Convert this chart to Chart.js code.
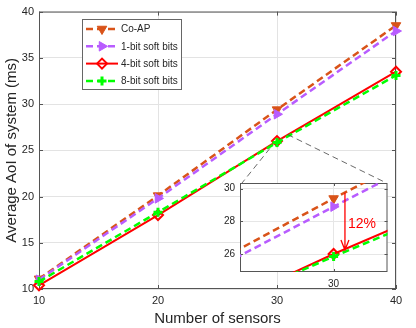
<!DOCTYPE html>
<html>
<head>
<meta charset="utf-8">
<script src="https://cdn.jsdelivr.net/npm/chart.js@4/dist/chart.umd.min.js"></script>
<style>
  html, body { margin: 0; padding: 0; background: #fff; }
  #wrap { position: relative; width: 416px; height: 328px; }
  #main { position: absolute; left: 0; top: 0; }
  #inset { position: absolute; left: 215px; top: 172px; }
</style>
</head>
<body>
<div id="wrap">
  <canvas id="main" width="416" height="328"></canvas>
  <canvas id="inset" width="180" height="118"></canvas>
</div>
<script>
Chart.defaults.font.family = "'Liberation Sans', Arial, Helvetica, sans-serif";
Chart.defaults.color = '#262626';

// data
var sensors = [10, 20, 30, 40];
var coAP  = [11.1, 20.1, 29.4, 38.5];
var soft1 = [11.0, 19.8, 28.9, 37.9];
var soft4 = [10.4, 18.0, 26.0, 33.5];
var soft8 = [10.8, 18.3, 25.85, 33.1];
var names = ['Co-AP', '1-bit soft bits', '4-bit soft bits', '8-bit soft bits'];
var xTicks = [10, 20, 30, 40];
var yTicks = [10, 15, 20, 25, 30, 35, 40];
var insetXTicks = [30];
var insetYTicks = [26, 28, 30];

// series look
var styles = [
  {color: '#D95319', dash: [7, 4], width: 2.5, point: 'triangle', rot: 180, r: 5.5, fill: true,  pw: 1},
  {color: '#B85CFF', dash: [7, 4], width: 2.5, point: 'triangle', rot: 90,  r: 5.5, fill: true,  pw: 1},
  {color: '#FF0000', dash: [],     width: 2,   point: 'rectRot',  rot: 0,   r: 5,   fill: false, pw: 2},
  {color: '#00FF00', dash: [7, 4], width: 2.5, point: 'cross',    rot: 0,   r: 4.5, fill: false, pw: 3}
];

function buildSets(noClip) {
  return [coAP, soft1, soft4, soft8].map(function (vals, i) {
    var s = styles[i];
    var ds = {
      label: names[i],
      data: sensors.map(function (x, j) { return {x: x, y: vals[j]}; }),
      borderColor: s.color,
      borderWidth: s.width,
      borderDash: s.dash,
      pointStyle: s.point,
      pointRotation: s.rot,
      pointRadius: s.r,
      pointBackgroundColor: s.fill ? s.color : 'rgba(0,0,0,0)',
      pointBorderColor: s.color,
      pointBorderWidth: s.pw,
      tension: 0,
      order: 3 - i
    };
    if (noClip) ds.clip = false;
    return ds;
  });
}

function setTicks(list) {
  return function (scale) {
    scale.ticks = list.map(function (v) { return {value: v}; });
  };
}

// axes box with inward ticks (matlab style)
function boxPlugin(xt, yt, tl) {
  return {
    id: 'box',
    beforeDatasetsDraw: function (chart) {
      var a = chart.chartArea, ctx = chart.ctx;
      var sx = chart.scales.x, sy = chart.scales.y;
      ctx.save();
      ctx.strokeStyle = '#555';
      ctx.lineWidth = 1;
      ctx.strokeRect(a.left + 0.5, a.top + 0.5, a.right - a.left - 1, a.bottom - a.top - 1);
      ctx.beginPath();
      xt.forEach(function (v) {
        var px = Math.round(sx.getPixelForValue(v)) + 0.5;
        ctx.moveTo(px, a.bottom); ctx.lineTo(px, a.bottom - tl);
        ctx.moveTo(px, a.top); ctx.lineTo(px, a.top + tl);
      });
      yt.forEach(function (v) {
        var py = Math.round(sy.getPixelForValue(v)) + 0.5;
        ctx.moveTo(a.left, py); ctx.lineTo(a.left + tl, py);
        ctx.moveTo(a.right, py); ctx.lineTo(a.right - tl, py);
      });
      ctx.stroke();
      ctx.restore();
    }
  };
}

/* inset */
var insetPos = {left: 215, top: 172};
var arrowX = 30.4, arrowFrom = 29.75, arrowTo = 26.25, labelY = 27.85;

var insetChart = new Chart(document.getElementById('inset'), {
  type: 'line',
  data: {datasets: buildSets(false)},
  options: {
    responsive: false,
    animation: false,
    layout: {padding: {left: 0, right: 7, top: 6, bottom: 0}},
    plugins: {legend: {display: false}, tooltip: {enabled: false}},
    scales: {
      x: {
        type: 'linear', min: 26.7, max: 31.9,
        afterBuildTicks: setTicks(insetXTicks),
        afterFit: function (s) { s.height = 18; },
        ticks: {font: {size: 10}, padding: 6, maxRotation: 0},
        grid: {color: '#e6e6e6', drawTicks: false},
        border: {display: false}
      },
      y: {
        type: 'linear', min: 24.9, max: 30.35,
        afterBuildTicks: setTicks(insetYTicks),
        afterFit: function (s) { s.width = 25; },
        ticks: {font: {size: 10}, padding: 5},
        grid: {color: '#e6e6e6', drawTicks: false},
        border: {display: false}
      }
    }
  },
  plugins: [
    {
      id: 'bg',
      beforeDraw: function (chart) {
        var a = chart.chartArea;
        chart.ctx.save();
        chart.ctx.fillStyle = '#fff';
        chart.ctx.fillRect(a.left, a.top, a.right - a.left, a.bottom - a.top);
        chart.ctx.restore();
      }
    },
    boxPlugin(insetXTicks, insetYTicks, 3),
    {
      id: 'arrow',
      afterDatasetsDraw: function (chart) {
        var ctx = chart.ctx, sx = chart.scales.x, sy = chart.scales.y;
        var x = sx.getPixelForValue(arrowX);
        var y0 = sy.getPixelForValue(arrowFrom), y1 = sy.getPixelForValue(arrowTo);
        ctx.save();
        ctx.strokeStyle = '#FF0000';
        ctx.lineWidth = 1.3;
        ctx.beginPath();
        ctx.moveTo(x, y0); ctx.lineTo(x, y1);
        ctx.moveTo(x - 4, y1 - 10); ctx.lineTo(x, y1); ctx.lineTo(x + 4, y1 - 10);
        ctx.stroke();
        ctx.fillStyle = '#FF0000';
        ctx.font = "14px 'Liberation Sans', Arial, sans-serif";
        ctx.textBaseline = 'middle';
        ctx.fillText('12%', x + 3, sy.getPixelForValue(labelY));
        ctx.restore();
      }
    }
  ]
});

/* main chart */
var zoomBox = {x0: 29.4, x1: 30.9, y0: 25.2, y1: 26.7};
var legendBox = {x: 82, y: 19, w: 99, h: 70, first: 10, gap: 17.3, lineLen: 32, textGap: 3};

var mainChart = new Chart(document.getElementById('main'), {
  type: 'line',
  data: {datasets: buildSets(true)},
  options: {
    responsive: false,
    animation: false,
    layout: {padding: {left: 0, right: 20, top: 8, bottom: 0}},
    plugins: {legend: {display: false}, tooltip: {enabled: false}},
    scales: {
      x: {
        type: 'linear', min: 10, max: 40,
        afterBuildTicks: setTicks(xTicks),
        afterFit: function (s) { s.height = 39; },
        ticks: {font: {size: 11}, padding: 5, maxRotation: 0},
        grid: {color: '#e3e3e3', drawTicks: false},
        border: {display: false},
        title: {display: true, text: 'Number of sensors', font: {size: 15}, padding: {top: 0, bottom: 0}}
      },
      y: {
        type: 'linear', min: 10, max: 40,
        afterBuildTicks: setTicks(yTicks),
        afterFit: function (s) { s.width = 39; },
        ticks: {font: {size: 11}, padding: 5},
        grid: {color: '#e3e3e3', drawTicks: false},
        border: {display: false},
        title: {display: true, text: 'Average AoI of system (ms)', font: {size: 15}, padding: {top: 3, bottom: 0}}
      }
    }
  },
  plugins: [
    boxPlugin(xTicks, yTicks, 4),
    {
      id: 'extras',
      afterDraw: function (chart) {
        var ctx = chart.ctx, sx = chart.scales.x, sy = chart.scales.y;
        var ia = insetChart.chartArea;
        // connector lines to the inset
        ctx.save();
        ctx.strokeStyle = '#444';
        ctx.lineWidth = 0.8;
        ctx.setLineDash([6, 4]);
        ctx.beginPath();
        ctx.moveTo(sx.getPixelForValue(zoomBox.x0), sy.getPixelForValue(zoomBox.y0));
        ctx.lineTo(insetPos.left + ia.left + 2, insetPos.top + ia.top);
        ctx.moveTo(sx.getPixelForValue(zoomBox.x1), sy.getPixelForValue(zoomBox.y1));
        ctx.lineTo(insetPos.left + ia.right - 1, insetPos.top + ia.top);
        ctx.stroke();
        ctx.restore();

        // legend
        var L = legendBox;
        ctx.save();
        ctx.fillStyle = '#fff';
        ctx.fillRect(L.x, L.y, L.w, L.h);
        ctx.strokeStyle = '#666';
        ctx.lineWidth = 1;
        ctx.strokeRect(L.x + 0.5, L.y + 0.5, L.w, L.h);
        ctx.font = "10px 'Liberation Sans', Arial, sans-serif";
        ctx.textBaseline = 'middle';
        names.forEach(function (name, i) {
          var s = styles[i];
          var y = L.y + L.first + i * L.gap;
          var x0 = L.x + 4, x1 = x0 + L.lineLen;
          ctx.strokeStyle = s.color;
          ctx.lineWidth = s.width;
          ctx.setLineDash(s.dash);
          ctx.beginPath();
          ctx.moveTo(x0, y); ctx.lineTo(x1, y);
          ctx.stroke();
          ctx.setLineDash([]);
          ctx.fillStyle = s.fill ? s.color : 'rgba(0,0,0,0)';
          ctx.lineWidth = s.pw;
          Chart.helpers.drawPoint(ctx, {pointStyle: s.point, rotation: s.rot, radius: s.r, borderWidth: s.pw}, (x0 + x1) / 2, y);
          ctx.fillStyle = '#262626';
          ctx.fillText(name, x1 + L.textGap, y + 0.5);
        });
        ctx.restore();
      }
    }
  ]
});
</script>
</body>
</html>
